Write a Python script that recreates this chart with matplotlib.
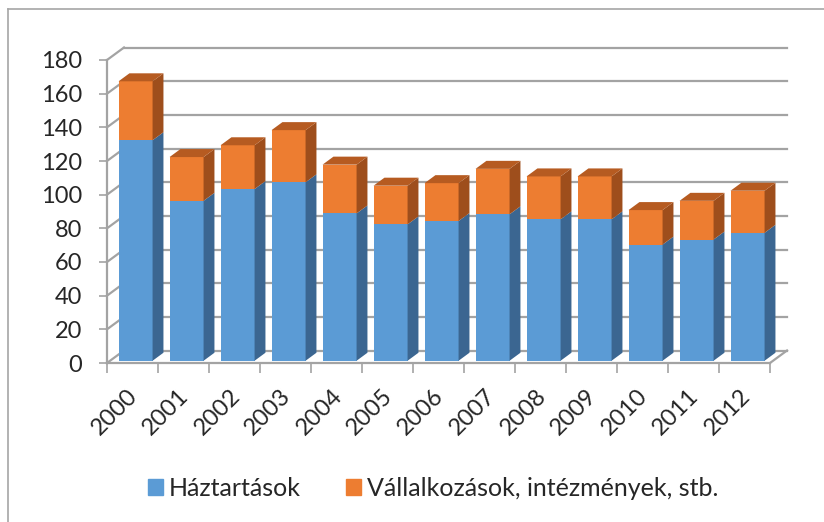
import matplotlib
matplotlib.use("Agg")
import matplotlib.pyplot as plt
from matplotlib.patches import Polygon, Patch
from matplotlib.lines import Line2D
import numpy as np

years = ["2000", "2001", "2002", "2003", "2004", "2005", "2006",
         "2007", "2008", "2009", "2010", "2011", "2012"]
haztartasok = [131, 95, 102, 106, 87.5, 81, 83, 87, 84, 84, 69, 72, 76]
vallalkozasok = [35, 26, 26, 31, 29, 23, 22.5, 27, 25.5, 25.5, 20.5, 23, 25]
yticks = list(range(0, 181, 20))
labels = ["Háztartások", "Vállalkozások, intézmények, stb."]

plt.rcParams['font.family'] = ['Lato', 'DejaVu Sans']
FS = 17
TXT = '#262626'
GRID = '#a3a3a3'
BLUE, BLUE_SIDE = '#5b9bd5', '#3b6691'
ORANGE, ORANGE_SIDE, ORANGE_TOP = '#ed7d31', '#9e4e1c', '#b65b21'

fig = plt.figure(figsize=(8.24, 5.22), dpi=100)
ax = fig.add_axes([107 / 824, 159 / 522, 663 / 824, 303 / 522])
ax.set_xlim(-0.5, 12.5)
ax.set_ylim(0, 180)

# depth of the 3d box in data units
DX = 17 / 51
DY = 12.5 / (303 / 180)
d0, d1 = 0.18, 0.82   # front / back of the columns inside the box
w = 0.667


def shift(x, y, d):
    return x + d * DX, y + d * DY


# back wall and side wall gridlines
for t in yticks:
    xa, ya = shift(-0.5, t, 1)
    xb, _ = shift(12.5, t, 1)
    ax.plot([xa, xb], [ya, ya], color=GRID, lw=1.6, clip_on=False, zorder=1)
    ax.plot([-0.5, xa], [t, ya], color=GRID, lw=1.6, clip_on=False, zorder=1)
xr, yr = shift(12.5, 0, 1)
ax.plot([12.5, xr], [0, yr], color=GRID, lw=1.6, clip_on=False, zorder=1)

# stacked columns
h = np.array(haztartasok)
v = np.array(vallalkozasok)
xs = np.arange(len(years)) + d0 * DX
base = d0 * DY
bd = d1 - d0
ax.bar(xs, h, width=w, bottom=base, color=BLUE, zorder=3, clip_on=False)
ax.bar(xs, v, width=w, bottom=base + h, color=ORANGE, zorder=3, clip_on=False)

for x, hb, vb in zip(xs, h, v):
    right = x + w / 2
    left = x - w / 2
    for lo, hi, col in [(base, base + hb, BLUE_SIDE),
                        (base + hb, base + hb + vb, ORANGE_SIDE)]:
        side = [(right, lo), (right + bd * DX, lo + bd * DY),
                (right + bd * DX, hi + bd * DY), (right, hi)]
        ax.add_patch(Polygon(side, closed=True, fc=col, ec='none',
                             zorder=3, clip_on=False))
    top = base + hb + vb
    lid = [(left, top), (right, top), (right + bd * DX, top + bd * DY),
           (left + bd * DX, top + bd * DY)]
    ax.add_patch(Polygon(lid, closed=True, fc=ORANGE_TOP, ec='none',
                         zorder=3, clip_on=False))

# axes
for s in ['top', 'right']:
    ax.spines[s].set_visible(False)
for s in ['left', 'bottom']:
    ax.spines[s].set_color(GRID)
    ax.spines[s].set_linewidth(1.6)
ax.set_yticks(yticks)
ax.tick_params(axis='y', length=6, width=1.2, color=GRID, pad=12,
               labelsize=FS, labelcolor=TXT)
ax.set_xticks([])
ax.set_xticks(np.arange(-0.5, 13, 1), minor=True)
ax.tick_params(axis='x', which='minor', length=7, width=1.2, color=GRID)

for i, yr_lab in enumerate(years):
    ax.annotate(yr_lab, xy=(i, 0), xytext=(2, -30),
                textcoords='offset pixels', rotation=45,
                rotation_mode='anchor', ha='right', va='center',
                fontsize=FS, color=TXT, annotation_clip=False)

handles = [Patch(color=BLUE), Patch(color=ORANGE)]
fig.legend(handles, labels, loc='center', bbox_to_anchor=(0.5255, 0.065),
           ncol=2, frameon=False, fontsize=18, handlelength=0.6,
           handleheight=0.6, handletextpad=0.24, columnspacing=1.8,
           labelcolor=TXT)

# chart area border
fig.add_artist(Line2D([8 / 824, 1], [1 - 9 / 522] * 2,
                      transform=fig.transFigure, color='#a6a6a6', lw=1.2))
fig.add_artist(Line2D([8 / 824] * 2, [0, 1 - 9 / 522],
                      transform=fig.transFigure, color='#a6a6a6', lw=1.2))

fig.savefig('out.png', dpi=100)
